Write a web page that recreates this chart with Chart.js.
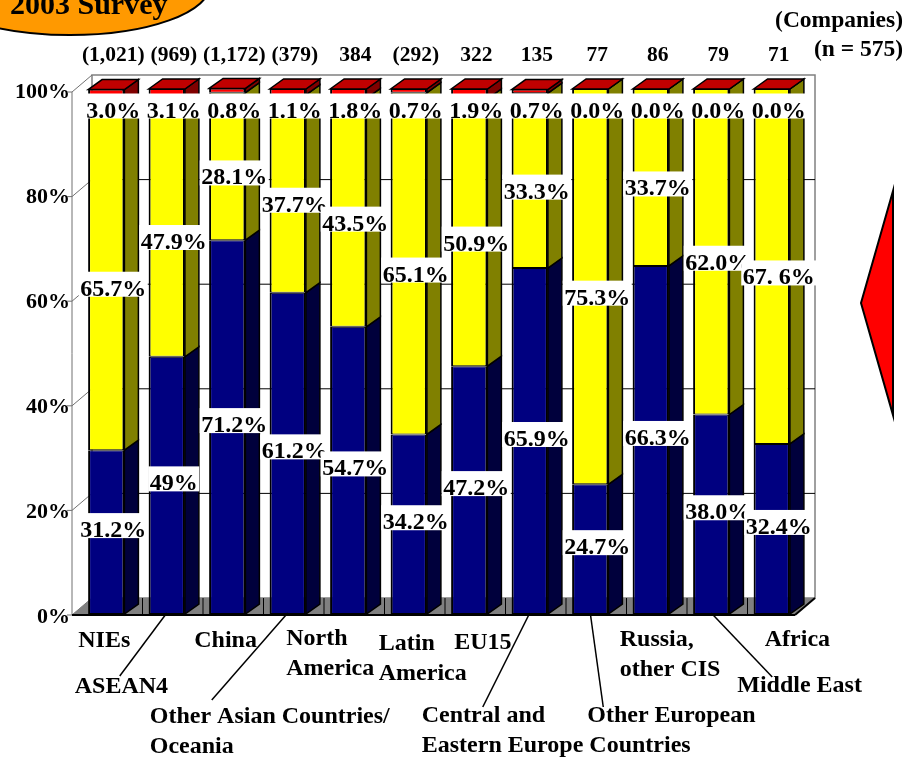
<!DOCTYPE html>
<html>
<head>
<meta charset="utf-8">
<script src="https://cdn.jsdelivr.net/npm/chart.js@4.4.1/dist/chart.umd.min.js"></script>
<style>
  html, body { margin: 0; padding: 0; background: #fff; }
  canvas { display: block; }
</style>
</head>
<body>
<canvas id="c" width="911" height="760"></canvas>
<script>
// Regions surveyed (order of the bars)
const regions = ['NIEs', 'ASEAN4', 'China', 'Other Asian Countries/Oceania', 'North America',
  'Latin America', 'EU15', 'Central and Eastern Europe Countries', 'Other European Countries',
  'Russia, other CIS', 'Middle East', 'Africa'];

// Number of companies answering, shown above each bar
const companyCounts = ['(1,021)', '(969)', '(1,172)', '(379)', '384', '(292)', '322', '135', '77', '86', '79', '71'];

// Shares of companies (%) per region
const expand   = [31.2, 49.0, 71.2, 61.2, 54.7, 34.2, 47.2, 65.9, 24.7, 66.3, 38.0, 32.4];
const maintain = [65.7, 47.9, 28.1, 37.7, 43.5, 65.1, 50.9, 33.3, 75.3, 33.7, 62.0, 67.6];
const reduce   = [3.0, 3.1, 0.8, 1.1, 1.8, 0.7, 1.9, 0.7, 0.0, 0.0, 0.0, 0.0];

// Value label texts as printed on the bars
const expandLabels   = ['31.2%', '49%', '71.2%', '61.2%', '54.7%', '34.2%', '47.2%', '65.9%', '24.7%', '66.3%', '38.0%', '32.4%'];
const maintainLabels = ['65.7%', '47.9%', '28.1%', '37.7%', '43.5%', '65.1%', '50.9%', '33.3%', '75.3%', '33.7%', '62.0%', '67. 6%'];
const reduceLabels   = ['3.0%', '3.1%', '0.8%', '1.1%', '1.8%', '0.7%', '1.9%', '0.7%', '0.0%', '0.0%', '0.0%', '0.0%'];

// Y axis ticks
const yTicks = [0, 20, 40, 60, 80, 100];

// Category label text lines
const regionLines = [['NIEs'], ['ASEAN4'], ['China'], ['Other Asian Countries/', 'Oceania'],
  ['North', 'America'], ['Latin', 'America'], ['EU15'], ['Central and', 'Eastern Europe Countries'],
  ['Other European'], ['Russia,', 'other CIS'], ['Middle East'], ['Africa']];

// Where each category label sits relative to its bar (dx from bar centre, baseline y, optional leader end)
const regionLabelLayout = [
  { dx: -28, y: 647 },
  { dx: -92, y: 693, lead: [-47, 676] },
  { dx: -33, y: 647 },
  { dx: -138, y: 723, lead: [-76, 700] },
  { dx: -62, y: 645 },
  { dx: -30, y: 650 },
  { dx: -15, y: 649 },
  { dx: -108, y: 722, lead: [-47, 707] },
  { dx: -3, y: 722, lead: [13, 707] },
  { dx: -31, y: 646 },
  { dx: 26, y: 692, lead: [61, 677] },
  { dx: -7, y: 646 }
];

const SERIF = '"Liberation Serif", "Times New Roman", serif';
const DEPTH = { x: 14, y: -10 };   // bar depth
const WALL = { x: 20, y: -17 };    // wall / floor depth
const frontColors = ['#000080', '#ffff00', '#ff0000'];
const sideColors = ['#00003c', '#808000', '#800000'];
const topColor = '#c00000';

function seg(ctx, x1, y1, x2, y2) {
  ctx.beginPath(); ctx.moveTo(x1, y1); ctx.lineTo(x2, y2); ctx.stroke();
}
function poly(ctx, pts, fill, stroke, lw) {
  ctx.beginPath();
  pts.forEach((p, i) => i ? ctx.lineTo(p[0], p[1]) : ctx.moveTo(p[0], p[1]));
  ctx.closePath();
  if (fill) { ctx.fillStyle = fill; ctx.fill(); }
  if (stroke) { ctx.strokeStyle = stroke; ctx.lineWidth = lw || 1; ctx.lineJoin = 'miter'; ctx.stroke(); }
}

// Walls, floor and grid behind the bars
const framePlugin = {
  id: 'frame3d',
  beforeDatasetsDraw(chart) {
    const { ctx, chartArea: a, scales: { x: xs, y: ys } } = chart;
    const fy = v => ys.getPixelForValue(v) + 1 + v * 0.02;
    const x0 = a.left - 4, x1 = a.right - 7;
    ctx.save();
    // back wall outline
    ctx.strokeStyle = '#808080'; ctx.lineWidth = 1.5;
    ctx.strokeRect(x0 + WALL.x, fy(100) + WALL.y, x1 - x0, fy(0) - fy(100));
    // grid lines on the back wall
    ctx.strokeStyle = '#000'; ctx.lineWidth = 1;
    yTicks.forEach(v => {
      if (v > 0 && v < 100) seg(ctx, x0 + WALL.x, fy(v) + WALL.y, x1 + WALL.x, fy(v) + WALL.y);
    });
    // side wall diagonals and tick marks
    ctx.strokeStyle = '#707070'; ctx.lineWidth = 1;
    yTicks.forEach(v => {
      seg(ctx, x0 - 5, fy(v), x0, fy(v));
      seg(ctx, x0, fy(v), x0 + WALL.x, fy(v) + WALL.y);
    });
    seg(ctx, x0, fy(100), x0, fy(0));
    // floor
    const f0 = fy(0);
    poly(ctx, [[x0, f0], [x1, f0], [x1 + WALL.x, f0 + WALL.y], [x0 + WALL.x, f0 + WALL.y]], '#808080');
    ctx.strokeStyle = '#000'; ctx.lineWidth = 1;
    for (let i = 1; i < regions.length; i++) {
      const bx = (xs.getPixelForValue(i - 1) + xs.getPixelForValue(i)) / 2 + 6;
      seg(ctx, bx, f0 + WALL.y, bx, f0 - 1);
    }
    ctx.lineWidth = 2;
    seg(ctx, x0, f0, x1, f0);
    seg(ctx, x1, f0, x1 + WALL.x, f0 + WALL.y);
    ctx.restore();
  },
  afterDatasetsDraw(chart) {
    const { ctx, chartArea: a } = chart;
    const metas = [0, 1, 2].map(i => chart.getDatasetMeta(i));
    ctx.save();
    // side and top faces of the bars
    for (let i = 0; i < regions.length; i++) {
      metas.forEach((m, d) => {
        const { x, y, base, width } = m.data[i].getProps(['x', 'y', 'base', 'width'], true);
        const r = x + width / 2, l = x - width / 2;
        const top = Math.min(y, base), bot = Math.max(y, base);
        poly(ctx, [[r, top], [r + DEPTH.x, top + DEPTH.y], [r + DEPTH.x, bot + DEPTH.y], [r, bot]], sideColors[d], '#000', 1.5);
        if (d === 2) {
          poly(ctx, [[l, top], [l + DEPTH.x, top + DEPTH.y], [r + DEPTH.x, top + DEPTH.y], [r, top]], topColor, '#000', 1.5);
        }
      });
    }
    // value labels in white boxes
    const labelSets = [expandLabels, maintainLabels, reduceLabels];
    ctx.font = 'bold 24px ' + SERIF;
    ctx.textAlign = 'center';
    ctx.textBaseline = 'alphabetic';
    for (let i = 0; i < regions.length; i++) {
      metas.forEach((m, d) => {
        const { x, y, base } = m.data[i].getProps(['x', 'y', 'base'], true);
        let cy = (y + base) / 2;
        if (d === 0) cy -= 3;
        if (d === 1) cy += 10;
        if (d === 2) cy = Math.max(cy, a.top + 20.5);
        const cx = x + DEPTH.x / 2;
        const txt = labelSets[d][i];
        const w = ctx.measureText(txt).width;
        ctx.fillStyle = '#fff';
        ctx.fillRect(cx - w / 2 - 1.5, cy - 16, w + 3, 25);
        ctx.fillStyle = '#000';
        ctx.fillText(txt, cx, cy + 8);
      });
    }
    // company counts above the bars
    ctx.font = 'bold 21.5px ' + SERIF;
    metas[0].data.forEach((b, i) => {
      ctx.fillText(companyCounts[i], b.x + DEPTH.x / 2, 61);
    });
    // category labels with leader lines
    ctx.font = 'bold 24px ' + SERIF;
    ctx.textAlign = 'left';
    ctx.strokeStyle = '#000';
    ctx.lineWidth = 1.5;
    metas[0].data.forEach((b, i) => {
      const lay = regionLabelLayout[i];
      regionLines[i].forEach((s, k) => ctx.fillText(s, b.x + lay.dx, lay.y + k * 29.5));
      if (lay.lead) seg(ctx, b.x, 613, b.x + lay.lead[0], lay.lead[1]);
    });
    ctx.restore();
  },
  afterDraw(chart) {
    const { ctx } = chart;
    ctx.save();
    // survey badge
    ctx.beginPath();
    ctx.ellipse(70, -15, 140, 50, 0, 0, Math.PI * 2);
    ctx.fillStyle = '#ff9900'; ctx.fill();
    ctx.strokeStyle = '#000'; ctx.lineWidth = 2; ctx.stroke();
    ctx.fillStyle = '#000';
    ctx.font = 'bold 30px ' + SERIF;
    ctx.textAlign = 'left';
    ctx.textBaseline = 'alphabetic';
    ctx.fillText('2003 Survey', 10, 14);
    // units note
    ctx.font = 'bold 23.5px ' + SERIF;
    ctx.textAlign = 'right';
    ctx.fillText('(Companies)', 903, 27);
    ctx.fillText('(n = 575)', 903, 56);
    // arrow marker
    poly(ctx, [[893, 191], [861, 303], [893, 415]], '#ff0000', '#000', 2);
    ctx.restore();
  }
};

new Chart(document.getElementById('c'), {
  type: 'bar',
  data: {
    labels: regions,
    datasets: [
      { label: 'Expand', data: expand, backgroundColor: frontColors[0] },
      { label: 'Maintain', data: maintain, backgroundColor: frontColors[1] },
      { label: 'Reduce', data: reduce, backgroundColor: frontColors[2] }
    ].map(ds => Object.assign(ds, {
      borderColor: '#000',
      borderWidth: { left: 2, right: 2, top: 1, bottom: 1 },
      borderSkipped: false,
      barPercentage: 0.6,
      categoryPercentage: 1.0
    }))
  },
  options: {
    responsive: false,
    animation: false,
    devicePixelRatio: 1,
    layout: { padding: { left: 0, top: 89, right: 109, bottom: 146 } },
    plugins: { legend: { display: false }, tooltip: { enabled: false } },
    scales: {
      x: { stacked: true, display: false },
      y: {
        stacked: true,
        min: 0, max: 100,
        afterFit(scale) { scale.width = 76; },
        afterBuildTicks(scale) { scale.ticks = yTicks.map(v => ({ value: v })); },
        grid: { display: false, drawTicks: false },
        border: { display: false },
        ticks: {
          padding: 6,
          labelOffset: 3,
          color: '#000',
          font: { family: SERIF, size: 22, weight: 'bold' },
          callback: v => v + '%'
        }
      }
    }
  },
  plugins: [framePlugin]
});
</script>
</body>
</html>
